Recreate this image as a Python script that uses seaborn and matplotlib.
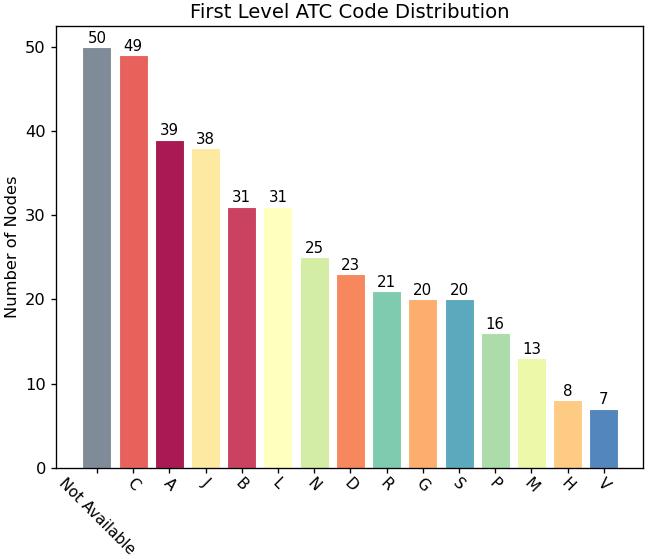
import numpy as np
import pandas as pd
import matplotlib
matplotlib.use("Agg")
import matplotlib.pyplot as plt
import seaborn as sns

# =====================================================
# DATOS
# =====================================================

codigos = ["Not Available", "C", "A", "J", "B", "L", "N", "D",
           "R", "G", "S", "P", "M", "H", "V"]

nodos = [50, 49, 39, 38, 31, 31, 25, 23, 21, 20, 20, 16, 13, 8, 7]

colores = ["#7f8b99", "#e8625c", "#a81a51", "#fde9a0", "#cb4160",
           "#ffffbe", "#d3eda5", "#f7875c", "#7fcbaf", "#fdad6e",
           "#5aa9bd", "#abdca9", "#eef8a9", "#fecb85", "#5386bd"]

df = pd.DataFrame({"Codigo": codigos, "Nodos": nodos})

# =====================================================
# GRAFICO
# =====================================================

plt.rcParams["font.family"] = ["DejaVu Sans"]
plt.rcParams["axes.linewidth"] = 0.96
plt.rcParams["xtick.major.size"] = 3.8
plt.rcParams["ytick.major.size"] = 3.8
plt.rcParams["xtick.major.width"] = 0.96
plt.rcParams["ytick.major.width"] = 0.96
plt.rcParams["xtick.major.pad"] = 1.5

fig = plt.figure(figsize=(6.46, 5.58), dpi=100)
ax = fig.add_axes([56 / 646, 1 - 467.7 / 558, 587 / 646, (467.7 - 26) / 558])

sns.barplot(
    data=df,
    x="Codigo",
    y="Nodos",
    hue="Codigo",
    palette=colores,
    legend=False,
    width=0.8,
    edgecolor="white",
    linewidth=0.8,
    saturation=1,
    ax=ax
)

for cont in ax.containers:
    ax.bar_label(cont, fontsize=10.8, padding=1)

ax.set_xlim(-1.13, len(codigos) - 1 + 1.08)
ax.set_ylim(0, 52.5)

ax.set_xlabel("")
ax.set_ylabel("Number of Nodes", fontsize=11.7)
ax.set_title("First Level ATC Code Distribution", fontsize=14.1)

plt.xticks(rotation=-45)
ax.tick_params(axis="y", labelsize=11.7)
ax.tick_params(axis="x", labelsize=11.0)

fig.savefig("out.png", dpi=100)
